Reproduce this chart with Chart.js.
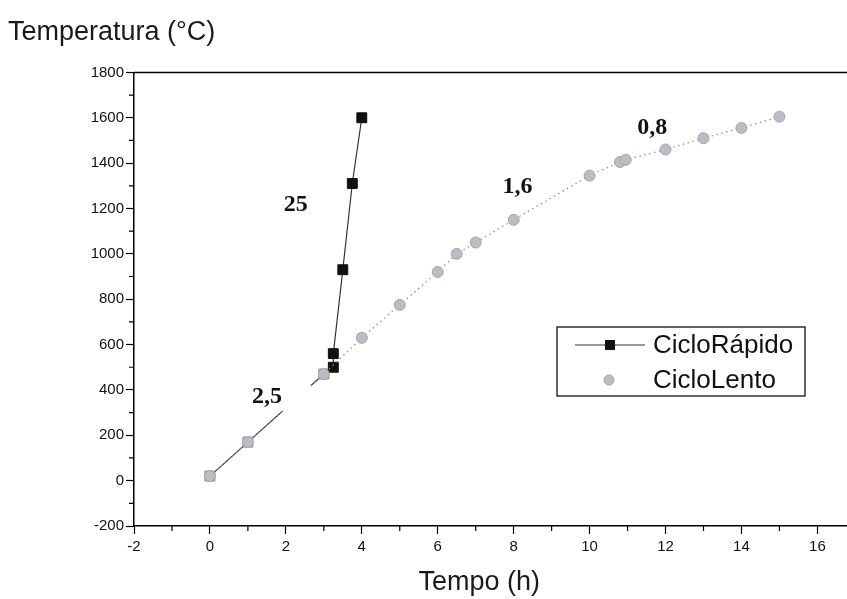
<!DOCTYPE html>
<html>
<head>
<meta charset="utf-8">
<script src="https://cdn.jsdelivr.net/npm/chart.js@4/dist/chart.umd.min.js"></script>
<style>
  html, body { margin: 0; padding: 0; background: #fff; }
</style>
</head>
<body>
<canvas id="chart" width="847" height="599"></canvas>
<script>
const rapidoX = [0, 1, 3, 3.25, 3.25, 3.5, 3.75, 4];
const rapidoY = [20, 170, 470, 500, 560, 930, 1310, 1600];
const lentoX = [0, 1, 3, 4, 5, 6, 6.5, 7, 8, 10, 10.8, 10.95, 12, 13, 14, 15];
const lentoY = [20, 170, 470, 630, 775, 920, 1000, 1050, 1150, 1345, 1405, 1415, 1460, 1510, 1555, 1605];
const seriesNames = ["CicloRápido", "CicloLento"];
const xTicks = [-2, 0, 2, 4, 6, 8, 10, 12, 14, 16];
const yTicks = [-200, 0, 200, 400, 600, 800, 1000, 1200, 1400, 1600, 1800];
const slopeText = ["25", "2,5", "1,6", "0,8"];
const slopeX = [2.26, 1.5, 8.1, 11.65];
const slopeY = [1218, 368, 1297, 1557];

const SANS = "'Liberation Sans', Arial, sans-serif";
const SERIF = "'Liberation Serif', 'Times New Roman', serif";
const grayFill = '#bcbcc4';

const toPoints = (xs, ys) => xs.map((x, i) => ({ x: x, y: ys[i] }));

// minor ticks + top frame line
const frame = {
  id: 'frame',
  afterDraw(chart) {
    const { ctx, chartArea: a, scales: { x, y } } = chart;
    ctx.save();
    ctx.strokeStyle = '#000';
    ctx.lineWidth = 1.2;
    ctx.beginPath();
    for (let v = -1; v < x.max; v += 2) {
      const px = x.getPixelForValue(v);
      ctx.moveTo(px, a.bottom); ctx.lineTo(px, a.bottom + 5);
    }
    for (let v = -100; v < y.max; v += 200) {
      const py = y.getPixelForValue(v);
      ctx.moveTo(a.left - 5, py); ctx.lineTo(a.left, py);
    }
    ctx.stroke();
    ctx.lineWidth = 1.5;
    ctx.beginPath();
    ctx.moveTo(a.left, a.top); ctx.lineTo(a.right, a.top);
    ctx.stroke();
    ctx.restore();
  }
};

// slope labels written on the curves (the 2,5 one hides a bit of the line)
const slopes = {
  id: 'slopes',
  afterDatasetsDraw(chart) {
    const { ctx, scales: { x, y } } = chart;
    ctx.save();
    ctx.font = "bold 24px " + SERIF;
    ctx.textAlign = 'center';
    ctx.textBaseline = 'middle';
    slopeText.forEach((t, i) => {
      const px = x.getPixelForValue(slopeX[i]);
      const py = y.getPixelForValue(slopeY[i]);
      const w = ctx.measureText(t).width;
      const extra = t === '2,5' ? 26 : 0;
      ctx.fillStyle = '#fff';
      ctx.fillRect(px - w / 2 - 3, py - 12, w + 6 + extra, 26);
      ctx.fillStyle = '#111';
      ctx.fillText(t, px, py);
    });
    ctx.restore();
  }
};

// boxed legend inside the plot
const boxLegend = {
  id: 'boxLegend',
  afterDraw(chart) {
    const { ctx } = chart;
    const left = 557, top = 327, right = 805, bottom = 396;
    ctx.save();
    ctx.fillStyle = '#fff';
    ctx.fillRect(left, top, right - left, bottom - top);
    ctx.strokeStyle = '#111';
    ctx.lineWidth = 1.3;
    ctx.strokeRect(left, top, right - left, bottom - top);
    ctx.font = "26px " + SANS;
    ctx.textBaseline = 'middle';
    const rows = [345, 380];
    chart.data.datasets.forEach((ds, i) => {
      const cy = rows[i];
      if (i === 0) {
        ctx.strokeStyle = ds.borderColor;
        ctx.lineWidth = ds.borderWidth;
        ctx.beginPath(); ctx.moveTo(575, cy); ctx.lineTo(645, cy); ctx.stroke();
        ctx.fillStyle = '#111';
        ctx.fillRect(605, cy - 5, 10, 10);
      } else {
        ctx.fillStyle = grayFill;
        ctx.strokeStyle = '#a4a4ac';
        ctx.lineWidth = 1;
        ctx.beginPath(); ctx.arc(609, cy, 5, 0, Math.PI * 2); ctx.fill(); ctx.stroke();
      }
      ctx.fillStyle = '#111';
      ctx.fillText(ds.label, 653, cy + 1);
    });
    ctx.restore();
  }
};

new Chart(document.getElementById('chart'), {
  type: 'scatter',
  data: {
    datasets: [
      {
        label: seriesNames[0],
        data: toPoints(rapidoX, rapidoY),
        showLine: true,
        borderColor: '#333',
        borderWidth: 1.2,
        pointStyle: 'rect',
        pointRadius: 7,
        pointBackgroundColor: rapidoX.map((v, i) => i < 3 ? grayFill : '#111'),
        pointBorderColor: rapidoX.map((v, i) => i < 3 ? '#888' : '#111'),
        pointBorderWidth: 1,
        order: 2
      },
      {
        label: seriesNames[1],
        data: toPoints(lentoX, lentoY),
        showLine: true,
        borderColor: '#8a8a92',
        borderWidth: 1.2,
        borderDash: [1.5, 3.5],
        pointStyle: 'circle',
        pointRadius: 5.5,
        pointBackgroundColor: grayFill,
        pointBorderColor: '#a4a4ac',
        pointBorderWidth: 1,
        order: 1
      }
    ]
  },
  options: {
    responsive: false,
    animation: false,
    layout: { autoPadding: false, padding: { left: 8, right: 0, top: 0, bottom: 0 } },
    plugins: {
      legend: { display: false },
      tooltip: { enabled: false },
      title: {
        display: true,
        text: 'Temperatura (°C)',
        align: 'start',
        color: '#1a1a1a',
        font: { family: SANS, size: 27, weight: 'normal' },
        padding: { top: 16, bottom: 24 }
      }
    },
    scales: {
      x: {
        type: 'linear',
        min: -2,
        max: 16.78,
        afterBuildTicks: s => { s.ticks = xTicks.map(v => ({ value: v })); },
        afterFit: s => { s.height = 73; s.paddingRight = 0; },
        ticks: { color: '#111', padding: 4, font: { family: SANS, size: 15 }, callback: v => String(v) },
        grid: { drawOnChartArea: false, drawTicks: true, tickLength: 8, tickColor: '#000', tickWidth: 1.2 },
        border: { display: true, color: '#000', width: 1.5 },
        title: {
          display: true,
          text: 'Tempo (h)   ',
          color: '#1a1a1a',
          font: { family: SANS, size: 27 },
          padding: { top: 0, bottom: 0 }
        }
      },
      y: {
        type: 'linear',
        min: -200,
        max: 1800,
        afterBuildTicks: s => { s.ticks = yTicks.map(v => ({ value: v })); },
        afterFit: s => { s.width = 126; },
        ticks: { color: '#111', padding: 2, font: { family: SANS, size: 15 }, callback: v => String(v) },
        grid: { drawOnChartArea: false, drawTicks: true, tickLength: 8, tickColor: '#000', tickWidth: 1.2 },
        border: { display: true, color: '#000', width: 1.5 }
      }
    }
  },
  plugins: [frame, slopes, boxLegend]
});
</script>
</body>
</html>
